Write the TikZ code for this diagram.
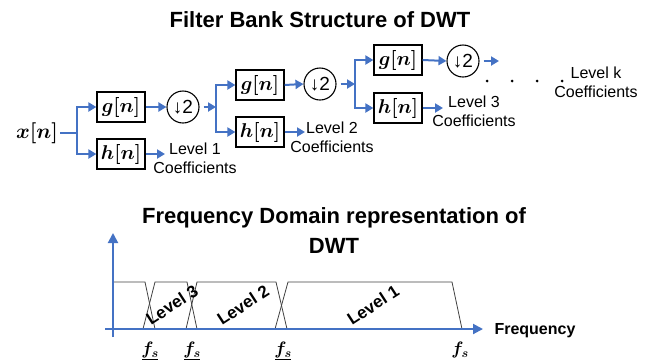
\RequirePackage{fix-cm}
\documentclass[tikz,border=0pt]{standalone}
\usepackage{amsmath}
\usepackage{fontspec}
\setmainfont{Liberation Sans}
\usetikzlibrary{arrows.meta,calc}

\definecolor{arrblue}{RGB}{68,114,196}
\definecolor{bandgray}{RGB}{64,64,64}

\tikzset{
  arr/.style={draw=arrblue, line width=2pt, -{Triangle[length=8pt,width=9pt]}},
  axis/.style={draw=arrblue, line width=2pt, -{Triangle[length=10pt,width=10pt]}},
  filt/.style={draw, line width=1.2pt, minimum width=48pt, minimum height=30pt,
    inner sep=0pt, font=\fontsize{20}{22}\selectfont},
  down/.style={draw, circle, line width=1.1pt, minimum size=32pt, inner sep=0pt,
    font=\fontsize{19}{21}\selectfont},
  coef/.style={align=center, inner sep=0pt, font=\fontsize{16}{19}\selectfont},
  heading/.style={align=center, font=\bfseries\fontsize{22}{30}\selectfont},
  band/.style={draw=bandgray, line width=0.8pt},
  bandlabel/.style={rotate=33, font=\bfseries\fontsize{17}{19}\selectfont},
  freqmark/.style={font=\fontsize{18}{20}\selectfont, inner sep=0pt},
  dot/.style={circle, fill, inner sep=0pt, minimum size=3pt},
}

\begin{document}
\begin{tikzpicture}[x=1pt, y=-1pt]
\useasboundingbox (0,0) rectangle (658,360);

% ---------- filter bank ----------
\node[heading] (title1) at (320,20) {Filter Bank Structure of DWT};

\node[inner sep=2pt, font=\fontsize{21}{23}\selectfont] (xn) at (37,133) {$\boldsymbol{x[n]}$};
\coordinate (b1) at (77,133);

% level 1
\node[filt] (g1) at (121,107) {$\boldsymbol{g[n]}$};
\node[filt] (h1) at (121,154) {$\boldsymbol{h[n]}$};
\node[down] (c1) at (183,107) {↓2};
\coordinate (e1) at (165,154);
\node[coef] (l1) at (195,158) {Level 1\\Coefficients};

% level 2
\coordinate (b2) at (216,107);
\node[filt] (g2) at (260,85) {$\boldsymbol{g[n]}$};
\node[filt] (h2) at (260,132) {$\boldsymbol{h[n]}$};
\node[down] (c2) at (320,84) {↓2};
\coordinate (e2) at (305,132);
\node[coef] (l2) at (332,137) {Level 2\\Coefficients};

% level 3
\coordinate (b3) at (355,84);
\node[filt] (g3) at (398,60) {$\boldsymbol{g[n]}$};
\node[filt] (h3) at (398,108) {$\boldsymbol{h[n]}$};
\node[down] (c3) at (463,61) {↓2};
\coordinate (e3) at (443,108);
\coordinate (e4) at (499,61);
\node[coef] (l3) at (474,111) {Level 3\\Coefficients};

% continuation
\node[dot] (d1) at (487,81) {};
\node[dot] (d2) at (512,81) {};
\node[dot] (d3) at (537,81) {};
\node[dot] (d4) at (562,81) {};
\node[coef] (lk) at (596,82) {Level k\\Coefficients};

% connectors
\draw[arr] (xn.east) -- (b1) |- (g1.west);
\draw[arr] (b1) |- (h1.west);
\draw[arr] (g1.east) -- (c1.west);
\draw[arr] (h1.east) -- (e1);
\draw[arr, shorten <=4pt] (c1.east) -- (b2);
\draw[arr] (b2) |- (g2.west);
\draw[arr] (b2) |- (h2.west);
\draw[arr] (g2.east) -- (c2.west);
\draw[arr] (h2.east) -- (e2);
\draw[arr, shorten <=4pt] (c2.east) -- (b3);
\draw[arr] (b3) |- (g3.west);
\draw[arr] (b3) |- (h3.west);
\draw[arr] (g3.east) -- (c3.west);
\draw[arr] (h3.east) -- (e3);
\draw[arr, shorten <=4pt] (c3.east) -- (e4);

% ---------- frequency domain ----------
\node[heading] (title2) at (334,231) {Frequency Domain representation of\\DWT};

\coordinate (vbot) at (113,337);
\coordinate (vtop) at (113,233);
\coordinate (hleft) at (105,329);
\coordinate (hright) at (483,329);

% pass bands
\draw[band] (113,282) -- (145,282) -- (155,329);
\draw[band] (143,329) -- (155,282) -- (187,282) -- (197,329);
\draw[band] (186,329) -- (197,282) -- (276,282) -- (287,329);
\draw[band] (275,329) -- (288,282) -- (452,282) -- (462,329);

\draw[axis] (vbot) -- (vtop);
\draw[axis] (hleft) -- (hright);

\node[font=\bfseries\fontsize{16}{18}\selectfont, anchor=west] (freq) at (491,331) {Frequency};

\node[bandlabel] (lv3) at (172,305) {Level 3};
\node[bandlabel] (lv2) at (243,305) {Level 2};
\node[bandlabel] (lv1) at (373,305) {Level 1};

\node[freqmark] (fs1) at (150,350) {$\boldsymbol{f_s}$};
\node[freqmark] (fs2) at (192,350) {$\boldsymbol{f_s}$};
\node[freqmark] (fs3) at (283,350) {$\boldsymbol{f_s}$};
\node[freqmark] (fs4) at (460,350) {$\boldsymbol{f_s}$};
\foreach \f in {fs1,fs2,fs3}
  \draw[line width=0.9pt] ($(\f)+(-8,9)$) -- ($(\f)+(8,9)$);

\end{tikzpicture}
\end{document}
